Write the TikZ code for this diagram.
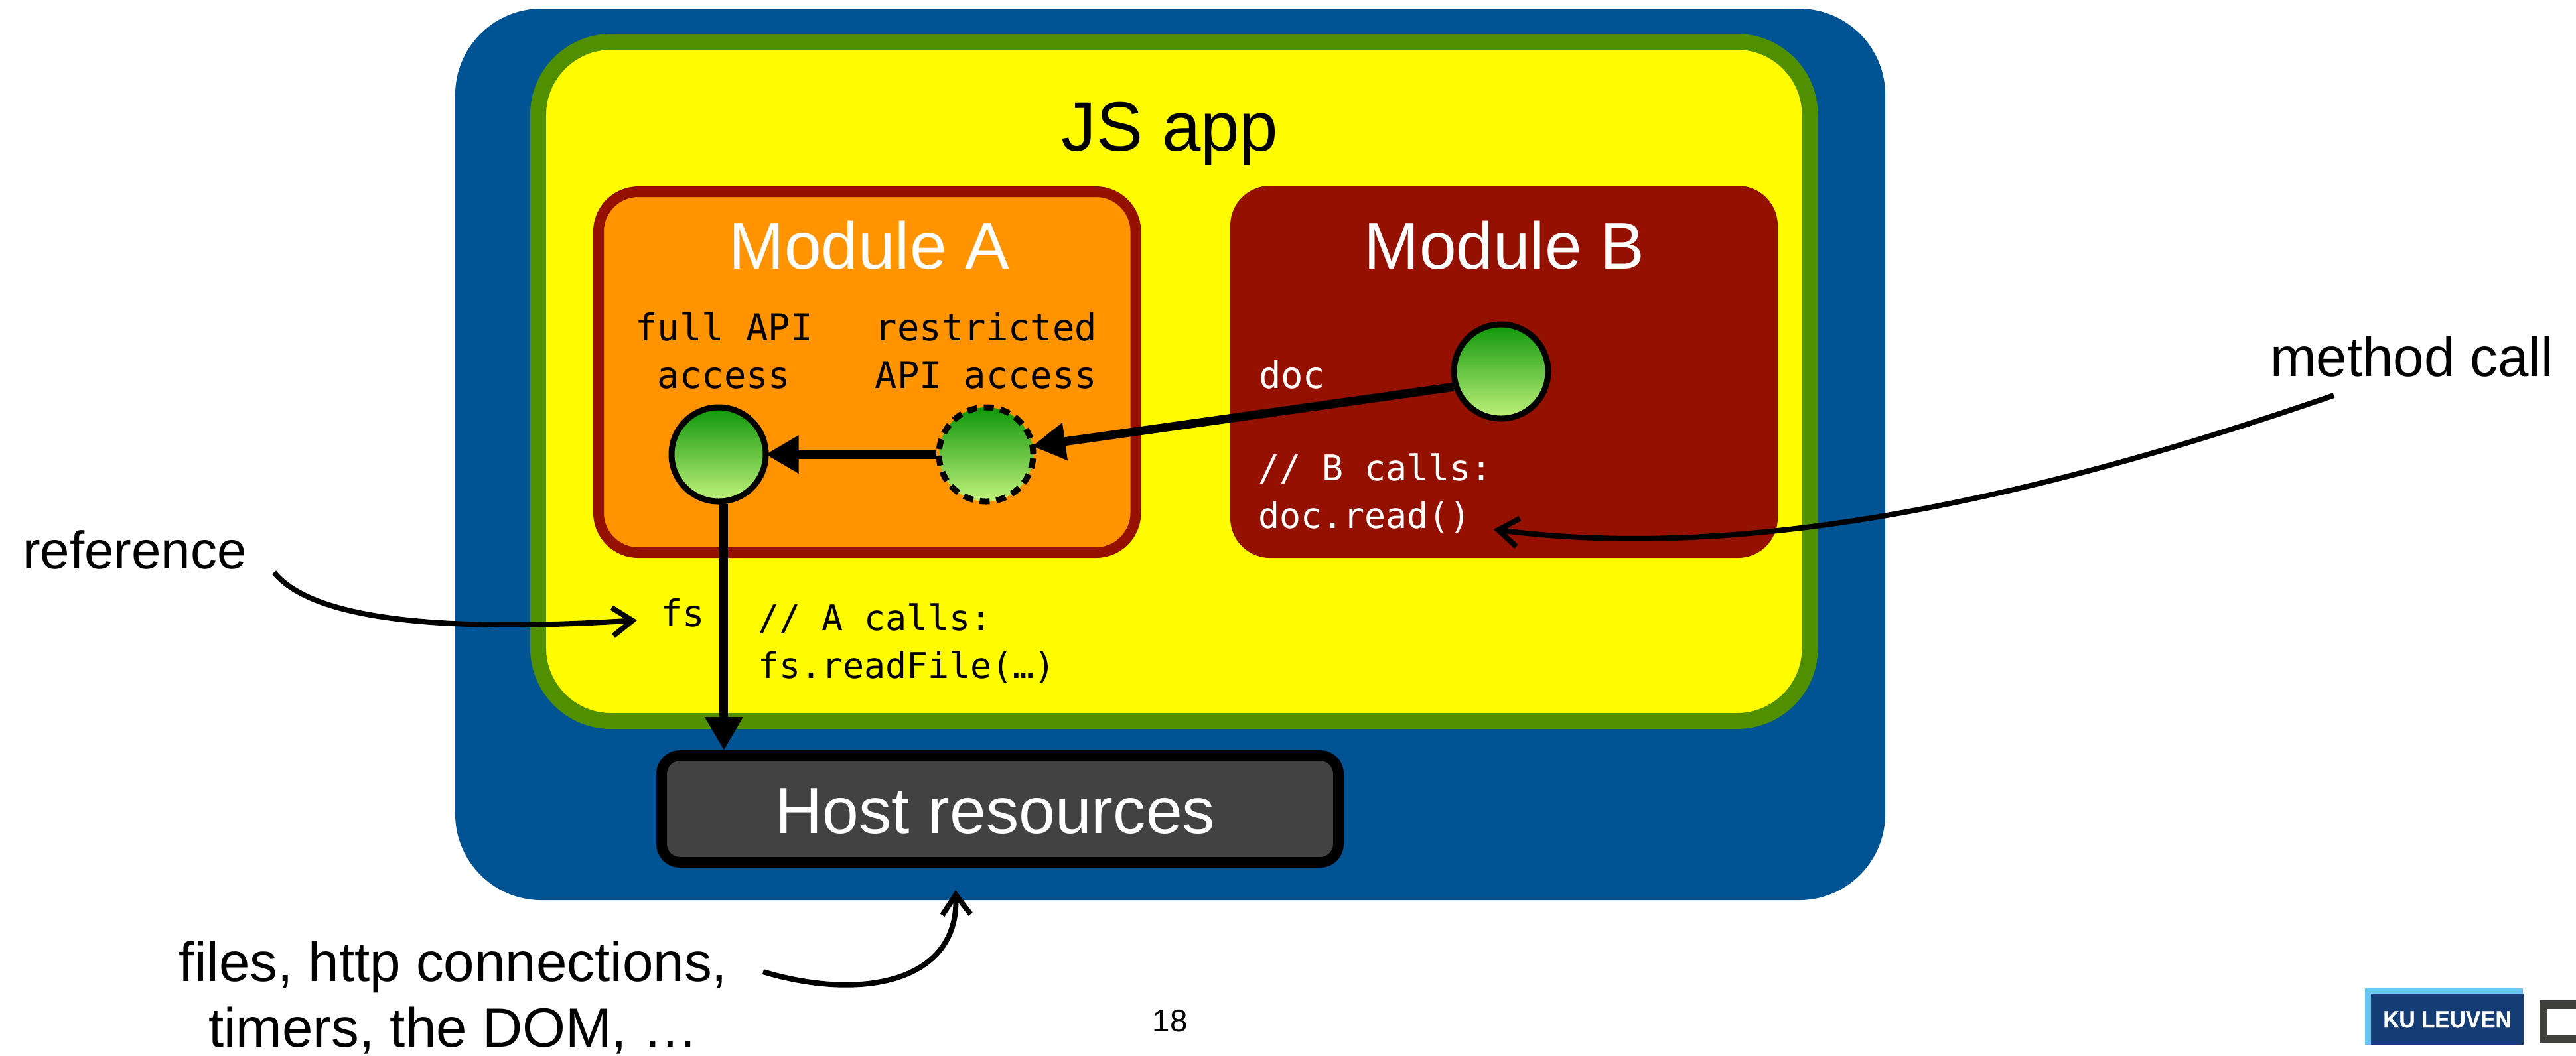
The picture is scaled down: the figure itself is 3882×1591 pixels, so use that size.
\documentclass[tikz,border=0pt]{standalone}
\usepackage{fontspec}
\usetikzlibrary{arrows.meta,calc}
\setmainfont{Liberation Sans}
\newfontfamily\logofont[BoldFeatures={FakeStretch=0.93,FakeBold=0.8}]{Liberation Sans}
\newfontfamily\codefont{DejaVu Sans Mono}
\definecolor{ocean}{HTML}{005493}
\definecolor{fern}{HTML}{4F8F00}
\definecolor{lemon}{HTML}{FFFB00}
\definecolor{tangerine}{HTML}{FF9300}
\definecolor{cayenne}{HTML}{941100}
\definecolor{hostgrey}{HTML}{424242}
\definecolor{topgreen}{HTML}{0E9609}
\definecolor{lowgreen}{HTML}{C2F37C}
\definecolor{kudark}{HTML}{143D76}
\definecolor{kulight}{HTML}{6BC3F0}
\definecolor{logogrey}{HTML}{3F3F3E}
\tikzset{
  box/.style={inner sep=0pt,outer sep=auto,rectangle},
  handle/.style={circle,inner sep=0pt,outer sep=auto,minimum size=28.4pt,line width=1.8pt,
     top color=topgreen,bottom color=lowgreen,shading angle=0},
  solidhandle/.style={handle,draw=black},
  dashhandle/.style={handle,draw=black,dash pattern=on 3pt off 2pt},
  title/.style={inner sep=0pt,anchor=base,text=white,font=\fontsize{20}{24}\selectfont},
  note/.style={inner sep=0pt,anchor=base,text=black,align=center,font=\fontsize{16.7}{19.9}\selectfont},
  code/.style={inner sep=0pt,anchor=base west,align=left,font=\codefont\fontsize{11.1}{14.4}\selectfont},
  callcode/.style={inner sep=0pt,anchor=base west,align=left,font=\codefont\fontsize{10.65}{14.4}\selectfont},
  flow/.style={line width=2.6pt,-{Triangle[length=10pt,width=10.8pt]}},
  callout/.style={line width=1.6pt,-{Straight Barb[length=6pt,width=8.5pt]}},
}
\begin{document}
\begin{tikzpicture}[x=0.2pt,y=-0.2pt]
\useasboundingbox (0,0) rectangle (3882,1591);
\node[box,fill=ocean,minimum width=431pt,minimum height=268.8pt,rounded corners=26pt] (engine) at (1763.5,685) {};
\node[box,fill=lemon,draw=fern,line width=4.8pt,minimum width=383.3pt,minimum height=204.8pt,rounded corners=22pt] (jsapp) at (1769.25,575) {};
\node[box,fill=tangerine,draw=cayenne,line width=3.2pt,minimum width=161.9pt,minimum height=108.8pt,rounded corners=12pt] (modA) at (1306.75,561) {};
\node[box,fill=cayenne,minimum width=165pt,minimum height=112.2pt,rounded corners=12pt] (modB) at (2266.5,560.5) {};
\node[box,fill=hostgrey,draw=black,line width=3.2pt,minimum width=204pt,minimum height=32.2pt,rounded corners=5.5pt] (host) at (1507,1219.5) {};

\node[title,text=black,font=\fontsize{21}{24}\selectfont] (jstitle) at (1763,227) {JS app};
\node[title] (atitle) at (1310,405) {Module A};
\node[title] (btitle) at (2267,405) {Module B};
\node[title,font=\fontsize{19.7}{24}\selectfont] (hosttitle) at (1500,1256) {Host resources};

\node[code,anchor=base,align=center] (fullnote) at (1091,585) {full API\\access};
\node[code,anchor=base,align=center] (restrictnote) at (1486,585) {restricted\\API access};
\node[code,text=white] (docname) at (1896,585) {doc};
\node[callcode,text=white] (bcalls) at (1895,796) {// B calls:\\doc.read()};
\node[code] (fsname) at (994,944) {fs};
\node[callcode] (acalls) at (1141,1022) {// A calls:\\fs.readFile(…)};

\node[solidhandle] (full) at (1083,685) {};
\node[dashhandle] (restricted) at (1486,685) {};
\node[solidhandle] (bobj) at (2262,560) {};

\draw[flow,shorten >=-1pt] (restricted.west) -- (full.east);
\draw[flow,shorten >=-1pt] (bobj.198) -- (restricted.10);
\draw[flow] (full.-84) -- (full.-84 |- host.north);

\node[note,anchor=base west,font=\fontsize{16}{19.9}\selectfont] (reflabel) at (33,857) {reference};
\node[note,anchor=base west] (calllabel) at (3420,567) {method call};
\node[note] (hostlabel) at (683,1578.5) {files, http connections,\\timers, the DOM, …};
\node[inner sep=0pt,anchor=base,font=\fontsize{9.5}{11}\selectfont] (pageno) at (1763,1555) {18};

\coordinate (refstart) at (413,863);
\coordinate (refend) at (960,935);
\coordinate (callstart) at (3517,596);
\coordinate (callend) at (2251,798);
\coordinate (hoststart) at (1150,1465);
\coordinate (hostend) at (1440,1342);
\draw[callout] (refstart) .. controls (480,945) and (720,950) .. (refend);
\draw[callout] (callstart) .. controls (3100,740) and (2650,850) .. (callend);
\draw[callout] (hoststart) .. controls (1300,1510) and (1445,1480) .. (hostend);

% logo
\node[box,fill=kulight,minimum width=47.6pt,minimum height=17.1pt,anchor=north west] (logoback) at (3564,1489.5) {};
\node[box,fill=kudark,minimum width=46pt,minimum height=15.4pt,anchor=north west] (logofront) at (3573,1498) {};
\node[inner sep=0pt,anchor=base,text=white,font=\logofont\bfseries\fontsize{7.2}{8}\selectfont] (logotext) at (3688,1549) {KU LEUVEN};
\draw[logogrey,line width=2.5pt] (3882,1514.5) -- (3833,1514.5) -- (3833,1567) -- (3882,1567);
\end{tikzpicture}
\end{document}
